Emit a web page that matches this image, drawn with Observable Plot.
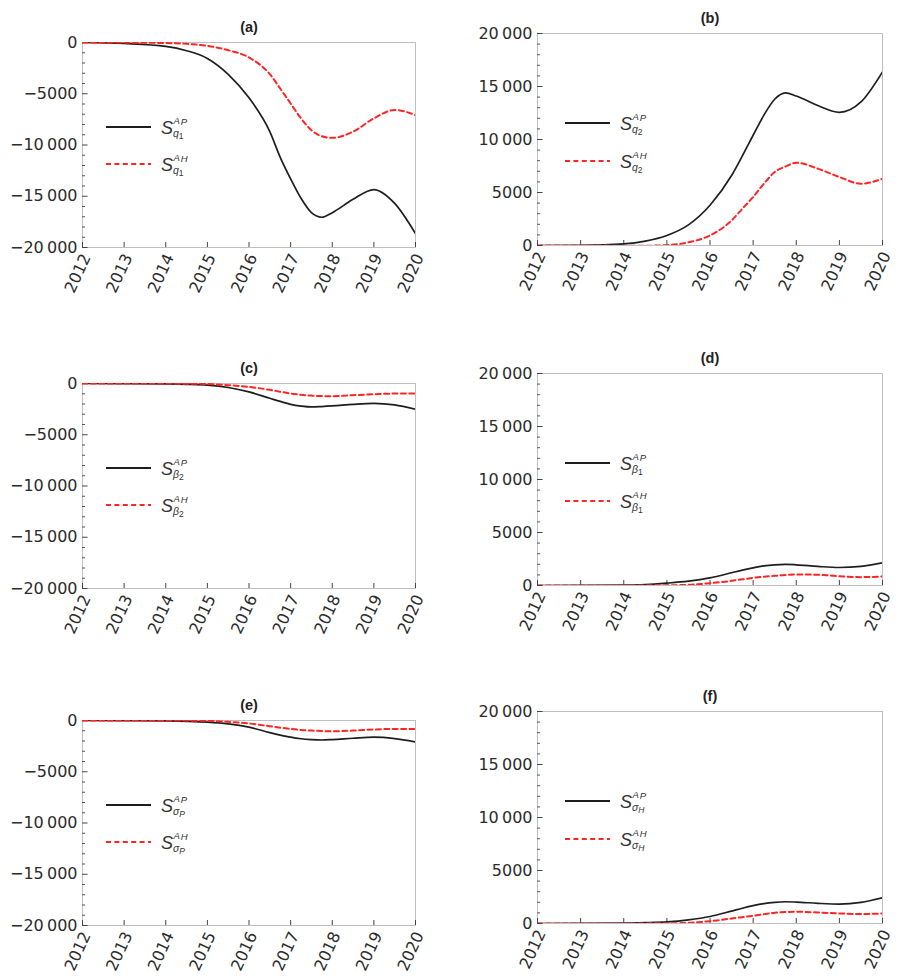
<!DOCTYPE html>
<html><head><meta charset="utf-8">
<script src="https://cdn.jsdelivr.net/npm/d3@7"></script>
<script src="https://cdn.jsdelivr.net/npm/@observablehq/plot@0.6"></script>
<style>
html,body{margin:0;padding:0;background:#fff;}
#root{position:relative;width:898px;height:978px;overflow:hidden;background:#fff;}
.panel{position:absolute;}
.panel svg{position:absolute;left:0;top:0;}
</style></head><body><div id="root"></div>
<script>
// sample times (years)
const years = [2012, 2013, 2014, 2014.5, 2015, 2015.5, 2016, 2016.5, 2016.75, 2017, 2017.25, 2017.5, 2017.75, 2018, 2018.5, 2019, 2019.5, 2020];
const yearTicks = [2012, 2013, 2014, 2015, 2016, 2017, 2018, 2019, 2020];
const negTicks = [0, -5000, -10000, -15000, -20000];
const posTicks = [0, 5000, 10000, 15000, 20000];

// (a) sensitivities to q1
const q1_AP = [0, -100, -380, -800, -1550, -3100, -5400, -8700, -11200, -13300, -15200, -16600, -17050, -16600, -15300, -14350, -15700, -18650];
const q1_AH = [0, -10, -50, -130, -330, -750, -1460, -3090, -4490, -5950, -7400, -8550, -9150, -9300, -8700, -7400, -6580, -7090];
// (b) q2
const q2_AP = [0, 20, 160, 420, 950, 1950, 3800, 6600, 8450, 10400, 12300, 13800, 14400, 14100, 13200, 12560, 13540, 16380];
const q2_AH = [0, 0, -20, -20, 30, 300, 950, 2360, 3470, 4570, 5830, 6930, 7450, 7810, 7250, 6460, 5830, 6300];
// (c) beta2
const b2_AP = [0, -10, -40, -80, -160, -390, -820, -1440, -1750, -2030, -2200, -2290, -2250, -2190, -2030, -1930, -2090, -2520];
const b2_AH = [0, 0, -10, -20, -50, -160, -330, -620, -800, -980, -1100, -1180, -1230, -1240, -1140, -1050, -980, -980];
// (d) beta1
const b1_AP = [0, 10, 30, 80, 220, 410, 720, 1200, 1450, 1670, 1850, 1950, 1990, 1950, 1800, 1700, 1800, 2140];
const b1_AH = [0, 0, 0, 10, 20, 60, 220, 440, 580, 720, 830, 910, 990, 1040, 1010, 880, 790, 850];
// (e) sigmaP
const sP_AP = [0, -10, -40, -80, -160, -330, -650, -1180, -1420, -1630, -1780, -1860, -1900, -1860, -1730, -1630, -1770, -2090];
const sP_AH = [0, 0, -5, -10, -30, -130, -290, -560, -700, -820, -920, -980, -1030, -1050, -980, -880, -820, -820];
// (f) sigmaH
const sH_AP = [0, 10, 30, 80, 160, 350, 660, 1170, 1440, 1680, 1870, 1990, 2050, 2020, 1900, 1830, 1990, 2430];
const sH_AH = [0, 0, 0, 10, 20, 60, 220, 470, 600, 730, 880, 1010, 1080, 1110, 1040, 950, 890, 950];

const titles = ["(a)", "(b)", "(c)", "(d)", "(e)", "(f)"];
const subSymbols = [["q","1"], ["q","2"], ["β","2"], ["β","1"], ["σ","P"], ["σ","H"]];

const panels = [
  {title: titles[0], row: 0, col: 0, ap: q1_AP, ah: q1_AH, sym: subSymbols[0]},
  {title: titles[1], row: 0, col: 1, ap: q2_AP, ah: q2_AH, sym: subSymbols[1]},
  {title: titles[2], row: 1, col: 0, ap: b2_AP, ah: b2_AH, sym: subSymbols[2]},
  {title: titles[3], row: 1, col: 1, ap: b1_AP, ah: b1_AH, sym: subSymbols[3]},
  {title: titles[4], row: 2, col: 0, ap: sP_AP, ah: sP_AH, sym: subSymbols[4]},
  {title: titles[5], row: 2, col: 1, ap: sH_AP, ah: sH_AH, sym: subSymbols[5]}
];

// layout
const rowTop = [0, 340, 678];
const rowH = [330, 330, 300];
const colLeft = [0, 449];
const colGeom = [
  {ml: 82, mr: 34, mt: [42, 43, 42], fh: 205, legY: [85, 122], lineX: 24},
  {ml: 88, mr: 16, mt: [33, 33, 33], fh: 212, legY: [90, 128], lineX: 28}
];

const FONT = "DejaVu Sans";
function fmt(v) {
  if (v === 0) return "0";
  const a = Math.abs(v);
  let s = a >= 10000 ? Math.floor(a / 1000) + "\u2009" + String(a % 1000).padStart(3, "0") : String(a);
  return (v < 0 ? "\u2212" : "") + s;
}

const root = document.getElementById("root");

panels.forEach(p => {
  const g = colGeom[p.col];
  const W = 449, H = rowH[p.row];
  const mt = g.mt[p.row];
  const mb = H - mt - g.fh;
  const fw = W - g.ml - g.mr;
  const neg = p.col === 0;
  const major = neg ? negTicks : posTicks;
  const minor = d3.range(0, 20001, 1000).map(v => neg ? -v : v).filter(v => !major.includes(v));
  const apData = years.map((t, i) => ({t, v: p.ap[i]}));
  const ahData = years.map((t, i) => ({t, v: p.ah[i]}));

  const chart = Plot.plot({
    width: W, height: H,
    marginLeft: g.ml, marginRight: g.mr, marginTop: mt, marginBottom: mb,
    x: {domain: [2012, 2020], axis: null},
    y: {domain: neg ? [-20000, 0] : [0, 20000], axis: null},
    style: {fontFamily: FONT, background: "transparent", overflow: "visible"},
    marks: [
      Plot.frame({stroke: "#bcc0c4", strokeWidth: 1}),
      Plot.tickY(minor, {y: d => d, insetRight: fw - 3, stroke: "#555", strokeWidth: 1}),
      Plot.tickY(major, {y: d => d, insetRight: fw - 5.5, stroke: "#444", strokeWidth: 1}),
      Plot.tickX(yearTicks, {x: d => d, insetTop: g.fh - 5, stroke: "#444", strokeWidth: 1}),
      Plot.text(major, {y: d => d, frameAnchor: "left", textAnchor: "end", dx: -5, text: fmt, fontSize: 16, fill: "#2b2b2b"}),
      Plot.text(yearTicks, {x: d => d, frameAnchor: "bottom", dy: 28, rotate: -65, text: d => String(d), fontSize: 16, fill: "#2b2b2b"}),
      Plot.text([p.title], {frameAnchor: "top", dy: -21, text: d => d, fontWeight: "bold", fontSize: 14.5, fontFamily: "Liberation Sans", fill: "#222"}),
      Plot.line(apData, {x: "t", y: "v", stroke: "#1e1e1e", strokeWidth: 1.7, curve: "monotone-x", clip: true}),
      Plot.line(ahData, {x: "t", y: "v", stroke: "#ff2424", strokeWidth: 2, strokeDasharray: "5,3.4", curve: "monotone-x", clip: true})
    ]
  });

  const div = document.createElement("div");
  div.className = "panel";
  div.style.left = colLeft[p.col] + "px";
  div.style.top = rowTop[p.row] + "px";
  div.style.width = W + "px";
  div.style.height = H + "px";
  div.appendChild(chart);

  // legend overlay
  const x0 = g.ml + g.lineX, x1 = x0 + 45, lx = x1 + 10;
  const yb = mt + g.legY[0], yr = mt + g.legY[1];
  const subStyle = /[0-9]/.test(p.sym[1]) ? "normal" : "italic";
  const lab = (y, sup2) => `
    <text font-family="Liberation Sans" font-style="italic" fill="#333">
      <tspan x="${lx}" y="${y + 7.4}" font-size="18">S</tspan><tspan x="${lx + 12.5}" y="${y - 2.6}" font-size="9.5">A</tspan><tspan dx="0.8" dy="0.6" font-size="9.5">${sup2}</tspan><tspan x="${lx + 12}" y="${y + 10}" font-size="10.5">${p.sym[0]}</tspan><tspan dy="1.6" font-size="8.5" font-style="${subStyle}">${p.sym[1]}</tspan>
    </text>`;
  const leg = document.createElementNS("http://www.w3.org/2000/svg", "svg");
  leg.setAttribute("width", W);
  leg.setAttribute("height", H);
  leg.innerHTML = `
    <line x1="${x0}" x2="${x1}" y1="${yb}" y2="${yb}" stroke="#1e1e1e" stroke-width="1.8"/>
    <line x1="${x0}" x2="${x1}" y1="${yr}" y2="${yr}" stroke="#ff2424" stroke-width="2" stroke-dasharray="5,3.4"/>
    ${lab(yb, "P")}
    ${lab(yr, "H")}`;
  div.appendChild(leg);
  root.appendChild(div);
});
</script>
</body></html>
